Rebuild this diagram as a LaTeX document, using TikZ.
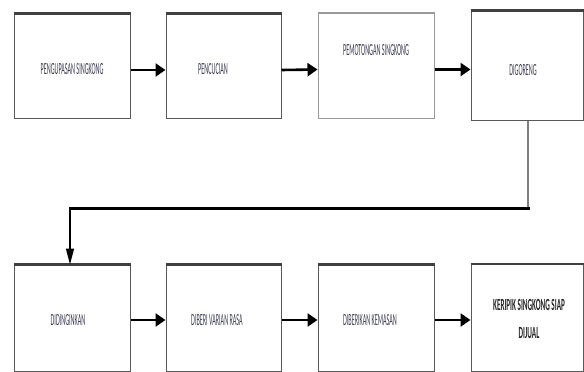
\documentclass[tikz,border=0pt]{standalone}
\usepackage{fontspec}
\setmainfont{Carlito}
\usepackage{graphicx}
\usetikzlibrary{arrows.meta}

\definecolor{teksabu}{RGB}{60,62,82}
\newcommand{\sempit}[1]{\scalebox{0.36}[1]{#1}}

\tikzset{
  kotak/.style={draw=black!65,line width=1pt,fill=white,inner sep=0pt},
  tepi/.style={draw=black!75,line width=2.2pt},
  teks/.style={font=\fontsize{17}{19}\selectfont,text=teksabu,inner sep=0pt},
  panah/.style={line width=2.6pt,-{Triangle[length=10pt,width=13pt]}}
}

\begin{document}
\begin{tikzpicture}[x=1pt,y=-1pt]
\useasboundingbox (0,0) rectangle (584,372);

% baris atas
\node[kotak,minimum width=116pt,minimum height=104pt] (b1) at (72,66) {};
\node[kotak,minimum width=115pt,minimum height=104pt] (b2) at (223.5,66) {};
\node[kotak,draw=black!40,minimum width=116pt,minimum height=105pt] (b3) at (376,65.5) {};
\node[kotak,minimum width=112pt,minimum height=109pt] (b4) at (527,65.5) {};

% baris bawah
\node[kotak,minimum width=116pt,minimum height=106pt] (b5) at (72,318) {};
\node[kotak,minimum width=115pt,minimum height=106pt] (b6) at (223.5,318) {};
\node[kotak,minimum width=116pt,minimum height=106pt] (b7) at (376,318) {};
\node[kotak,minimum width=112pt,minimum height=107pt] (b8) at (527,318) {};

\foreach \k in {b1,b2,b4,b5,b6,b7,b8}
  \draw[tepi] (\k.north west) -- (\k.north east);
\draw[tepi,draw=black!40,line width=1.5pt] (b3.north west) -- (b3.north east);

% label
\node[teks] (t1) at (72,69) {\sempit{PENGUPASAN SINGKONG}};
\node[teks] (t2) at (213,69) {\sempit{PENCUCIAN}};
\node[teks] (t3) at (376,50) {\sempit{PEMOTONGAN SINGKONG}};
\node[teks] (t4) at (523,70) {\sempit{DIGORENG}};
\node[teks] (t5) at (68,320) {\sempit{DIDINGINKAN}};
\node[teks] (t6) at (217,320) {\sempit{DIBERI VARIAN RASA}};
\node[teks] (t7) at (370,320) {\sempit{DIBERIKAN KEMASAN}};
\node[teks,font=\fontsize{17}{28}\selectfont\bfseries,text=black!85,align=center] (t8) at (529,319)
  {\scalebox{0.42}[1]{KERIPIK SINGKONG SIAP}\\\scalebox{0.42}[1]{DIJUAL}};

% panah
\draw[panah] ([yshift=-4pt]b1.east) -- ([yshift=-4pt]b2.west);
\draw[panah] ([yshift=-4pt]b2.east) -- ([yshift=-4pt]b3.west);
\draw[panah] ([yshift=-4pt]b3.east) -- ([yshift=-4pt]b4.west);
\draw[panah] ([yshift=-2pt]b5.east) -- ([yshift=-2pt]b6.west);
\draw[panah] ([yshift=-2pt]b6.east) -- ([yshift=-2pt]b7.west);
\draw[panah] ([yshift=-2pt]b7.east) -- ([yshift=-2pt]b8.west);

% sambungan baris
\coordinate (k1) at (528,208);
\coordinate (k2) at (70,208);
\draw[black!50,line width=1.2pt] ([xshift=1pt]b4.south) -- (k1);
\draw[line width=3pt,line cap=rect] (k1) -- (k2);
\draw[line width=1.2pt,-{Triangle[length=16pt,width=8pt]}] (k2) -- (k2 |- b5.north);

\end{tikzpicture}
\end{document}
